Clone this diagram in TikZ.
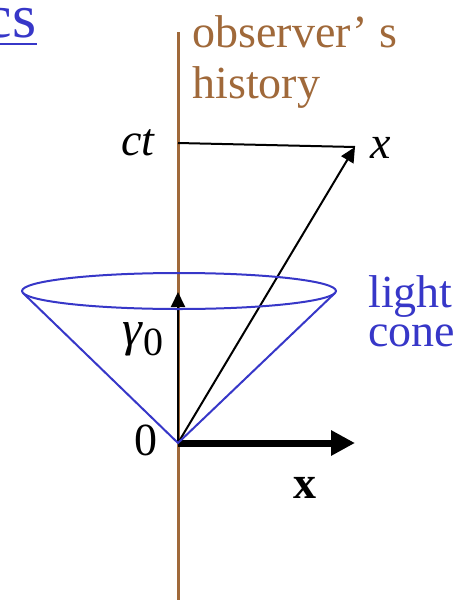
\documentclass[tikz,border=0pt]{standalone}
\usepackage{fontspec}
\setmainfont{Liberation Serif}
\usepackage{xcolor}
\usepackage{tikz}
\usetikzlibrary{arrows.meta}
\definecolor{worldc}{RGB}{160,105,58}
\definecolor{lightc}{RGB}{55,55,200}
\newcommand{\Bsize}{\fontsize{23}{25.5}\selectfont}

\begin{document}
\begin{tikzpicture}[x=0.5pt,y=-0.5pt,>={Triangle[length=7.5pt,width=7pt]},
  lbl/.style={inner sep=0pt,font=\Bsize}]
\useasboundingbox (0,0) rectangle (476,600);
% key points
\coordinate (wtop) at (178,32);
\coordinate (wbot) at (178,600);
\coordinate (O) at (178,443);
\coordinate (T) at (178,143);
\coordinate (X) at (355,147);
\coordinate (G) at (178,292);
\coordinate (E) at (355,443);
\coordinate (C) at (179,291);
\coordinate (cl) at (23,293);
\coordinate (cr) at (335,293);
% observer's history
\draw[worldc,line width=1.5pt] (wtop) -- (wbot);
\node[lbl,worldc,anchor=north west,align=left] (obs) at (192,15) {observer’ s\\history};
% event x and its time ct
\draw[line width=1pt] (T) -- (X);
\draw[->,line width=1pt] (O) -- (X);
\node[lbl,anchor=base east] (ct) at (156,155) {\textit{ct}};
\node[lbl,anchor=base west] (xev) at (370,158) {\textit{x}};
% gamma_0 and the bold x
\draw[->,line width=1pt] (O) -- (G);
\node[lbl,anchor=base east] (gam) at (164,345) {\fontsize{25}{25}\selectfont\textit{γ}\raisebox{-5pt}{\fontsize{20}{20}\selectfont 0}};
\draw[-{Triangle[length=12pt,width=12pt]},line width=3.5pt] (O) -- (E);
\node[lbl,anchor=base east] (zero) at (158,455) {0};
\node[lbl,anchor=base west] (xvec) at (293,498) {\textbf{x}};
% light cone
\draw[lightc,line width=1pt] (cl) -- (O) -- (cr);
\draw[lightc,line width=1pt] (C) ellipse [x radius=157,y radius=18];
\node[lbl,lightc,anchor=north west,align=left,font=\fontsize{23}{19.5}\selectfont] (lc) at (368,275) {light\\cone};
% cut title
\node[lbl,lightc,anchor=base east,font=\fontsize{31}{31}\selectfont] (cs) at (37,37) {cs};
\draw[lightc,line width=1.25pt] ([yshift=-3.5pt]cs.base west) -- ([yshift=-3.5pt]cs.base east);
\end{tikzpicture}
\end{document}
